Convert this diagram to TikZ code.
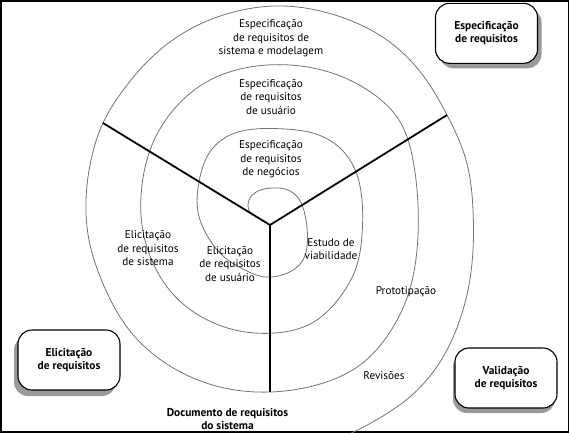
\documentclass[tikz,border=0pt]{standalone}
\usepackage{fontspec}
\setmainfont{PT Sans}
\usetikzlibrary{shadows,hobby}

\tikzset{
  spiral/.style={draw=black!55, line width=0.8pt},
  spoke/.style={draw=black, line width=1.8pt},
  ringtext/.style={align=center, font=\fontsize{11.2}{13.5}\selectfont},
  phasebox/.style={draw, line width=1.1pt, rounded corners=14pt, fill=white,
    minimum width=102pt, minimum height=60pt, align=center,
    font=\fontsize{11.4}{13}\selectfont\bfseries},
}

\begin{document}
\begin{tikzpicture}[x=1pt,y=-1pt]
	\useasboundingbox (0,0) rectangle (569,432);
	\draw[line width=3pt] (0,0) rectangle (569,432);

	% spiral
	\draw[spiral] (250,212.5) to[curve through={
	  (249,200) (258,191) (272,188) (288,190) (299,199) (305,215)
	  (307.5,240) (301,263) (285,274) (266,277) (243,269) (223,256)
	  (208,237) (198,212) (199,182) (208,155) (228,136) (255,129)
	  (285,129) (316,134) (340,148) (356,172) (362,200) (362,235)
	  (356,268) (340,297) (312,323) (275,333) (235,330) (200,316)
	  (172,293) (153,263) (142,225) (142,185) (152,145) (175,108)
	  (210,80) (250,67) (290,65) (335,74) (372,93) (399,120)
	  (413,160) (418,205) (417,250) (408,295) (390,332) (360,365)
	  (320,384) (270,392) (220,387) (170,366) (130,331) (104,286)
	  (89,240) (86,200) (90,165) (103,123) (124,89) (152,57)
	  (185,32) (230,13) (283,6) (335,15) (381,36) (418,69)
	  (447,115) (466,160) (473,210) (473,250) (468,290) (458,325)
	  (440,362) (412,395) (378,419)}] (345,436);

	% spokes
	\coordinate (hub) at (270,225);
	\coordinate (spokeL) at (103,123);
	\coordinate (spokeR) at (447,115);
	\coordinate (spokeD) at (270,392);
	\draw[spoke] (spokeL) -- (hub) -- (spokeR);
	\draw[spoke] (hub) -- (spokeD);

	% labels on the rings
	\node[ringtext] (espSis) at (271,38.5) {Especificação\\de requisitos de\\sistema e modelagem};
	\node[ringtext] (espUsu) at (271,96.7) {Especificação\\de requisitos\\de usuário};
	\node[ringtext] (espNeg) at (271,159.3) {Especificação\\de requisitos\\de negócios};
	\node[ringtext] (elicSis) at (148,248.5) {Elicitação\\de requisitos\\de sistema};
	\node[ringtext] (elicUsu) at (230,264) {Elicitação\\de requisitos\\de usuário};
	\node[ringtext] (estudo) at (331,249) {Estudo de\\viabilidade};
	\node[ringtext] (proto) at (406,291.7) {Prototipação};
	\node[ringtext] (revis) at (384,375.5) {Revisões};
	\node[ringtext, font=\fontsize{11.4}{12.5}\selectfont\bfseries] (docReq) at (227.5,419) {Documento de requisitos\\do sistema};

	% phases
	\node[phasebox, drop shadow={shadow xshift=4pt, shadow yshift=-5pt, fill=black!40, opacity=1}] (boxEsp) at (486.5,33.3) {Especificação\\de requisitos};
	\node[phasebox, drop shadow={shadow xshift=-4pt, shadow yshift=-6pt, fill=black!40, opacity=1}] (boxElic) at (69,360) {Elicitação\\de requisitos};
	\node[phasebox, drop shadow={shadow xshift=-2pt, shadow yshift=-5pt, fill=black!40, opacity=1}] (boxVal) at (506,378) {Validação\\de requisitos};
\end{tikzpicture}
\end{document}
